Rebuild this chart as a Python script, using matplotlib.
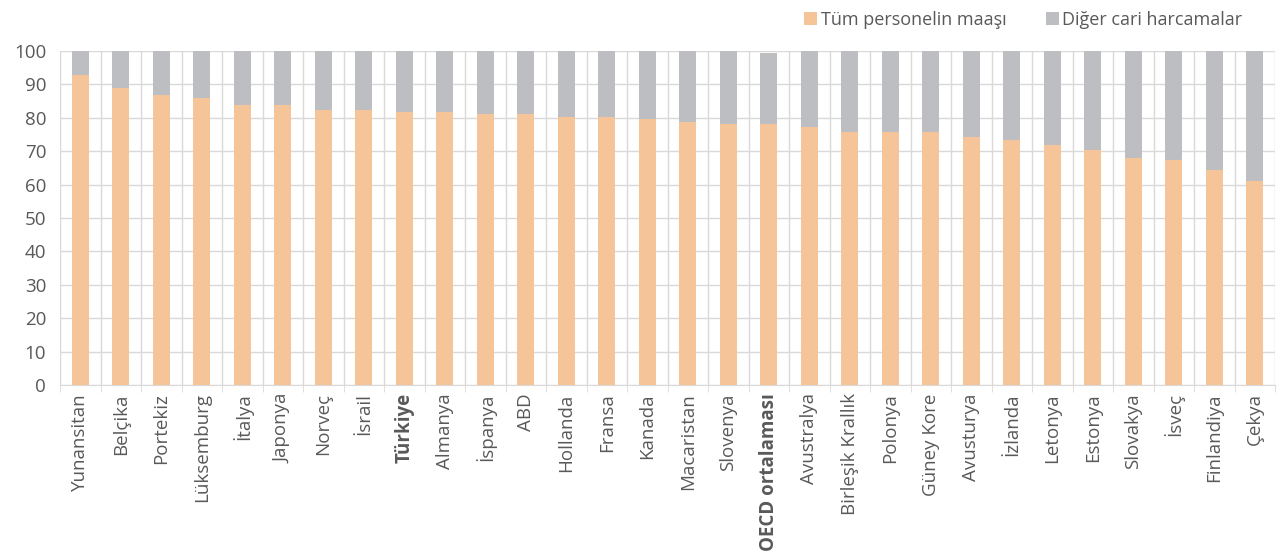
import matplotlib
matplotlib.use("Agg")
import matplotlib.pyplot as plt
import numpy as np

plt.rcParams['font.family'] = ['Open Sans', 'DejaVu Sans']

countries = ["Yunansitan", "Belçika", "Portekiz", "Lüksemburg", "İtalya", "Japonya", "Norveç",
             "İsrail", "Türkiye", "Almanya", "İspanya", "ABD", "Hollanda", "Fransa", "Kanada",
             "Macaristan", "Slovenya", "OECD ortalaması", "Avustralya", "Birleşik Krallık",
             "Polonya", "Güney Kore", "Avusturya", "İzlanda", "Letonya", "Estonya", "Slovakya",
             "İsveç", "Finlandiya", "Çekya"]
salary = [92.8, 88.9, 86.7, 85.9, 83.7, 83.7, 82.2, 82.2, 81.7, 81.6, 81.0, 81.0, 80.2, 80.2,
          79.5, 78.8, 78.1, 78.0, 77.3, 75.8, 75.8, 75.8, 74.1, 73.4, 71.8, 70.3, 68.0, 67.3,
          64.3, 61.2]
total = [100] * 30
total[17] = 99.5
other = [t - s for t, s in zip(total, salary)]

bold_labels = {"Türkiye", "OECD ortalaması"}

c_sal = "#F6C499"
c_oth = "#BDBEC1"
txt = "#595959"
grid_c = "#D9D9D9"

fig = plt.figure(figsize=(12.79, 5.6), dpi=100)
ax = fig.add_axes([0.047, 0.3125, 0.95, 0.5965])
x = np.arange(len(countries))
ax.bar(x, salary, width=0.42, color=c_sal, label="Tüm personelin maaşı", zorder=3)
ax.bar(x, other, width=0.42, bottom=salary, color=c_oth, label="Diğer cari harcamalar", zorder=3)

ax.set_xlim(-0.5, len(countries) - 0.5)
ax.set_ylim(0, 100)
ax.set_yticks(range(0, 101, 10))
ax.set_xticks(x)
ax.set_xticklabels(countries, rotation=90, fontsize=13.5, color=txt)
for lab in ax.get_xticklabels():
    if lab.get_text() in bold_labels:
        lab.set_fontweight("bold")
ax.set_xticks(np.arange(-0.5, len(countries), 1), minor=True)
ax.tick_params(axis='x', which='major', length=0, pad=6)
ax.tick_params(axis='x', which='minor', length=5, color=grid_c)
ax.tick_params(axis='y', length=0, labelsize=13.5, labelcolor=txt, pad=10)
ax.grid(axis='y', color=grid_c, linewidth=1, zorder=0)
ax.grid(axis='x', which='minor', color=grid_c, linewidth=1, zorder=0)
for s in ['top', 'right', 'left']:
    ax.spines[s].set_visible(False)
ax.spines['bottom'].set_color(grid_c)

leg = fig.legend(loc='upper right', bbox_to_anchor=(0.984, 1.01), ncol=2, frameon=False,
                 fontsize=13, handlelength=0.7, handleheight=0.7, handletextpad=0.2,
                 columnspacing=2.2)
for t in leg.get_texts():
    t.set_color(txt)

fig.savefig("out.png", dpi=100)
